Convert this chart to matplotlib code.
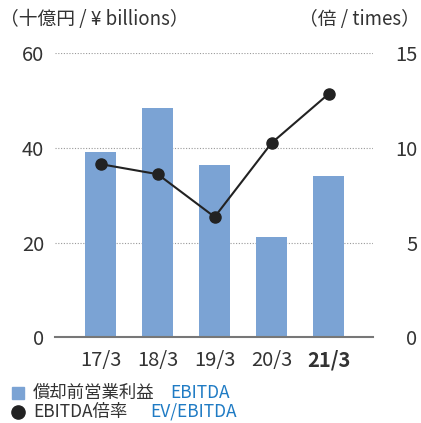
import matplotlib
matplotlib.use('Agg')
import matplotlib.pyplot as plt
from matplotlib.lines import Line2D

plt.rcParams['font.family'] = ['Noto Sans CJK JP', 'DejaVu Sans']

years = ['17/3', '18/3', '19/3', '20/3', '21/3']
ebitda = [39.2, 48.4, 36.5, 21.3, 34.0]      # 十億円
ev_ebitda = [9.15, 8.62, 6.36, 10.27, 12.86]  # 倍

bar_color = '#7ba3d4'
text_color = '#333333'
blue_text = '#1f7bc4'

fig = plt.figure(figsize=(4.21, 4.23), dpi=100)
ax = fig.add_axes([0.131, 0.2026, 0.755, 0.671])
ax2 = ax.twinx()

x = list(range(len(years)))
ax.bar(x, ebitda, width=0.54, color=bar_color, zorder=2)
ax.set_xlim(-0.8, 4.78)
ax.set_ylim(0, 60)
ax.set_yticks([0, 20, 40, 60])
for y in [20, 40, 60]:
    ax.axhline(y, color='#999999', lw=0.8, ls=(0, (1, 1.5)), zorder=1)

ax2.plot(x, ev_ebitda, color='#222222', lw=1.5, marker='o', ms=8, zorder=3)
ax2.set_ylim(0, 15)
ax2.set_yticks([0, 5, 10, 15])

for a in (ax, ax2):
    for s in ['top', 'left', 'right', 'bottom']:
        a.spines[s].set_visible(False)
    a.tick_params(length=0, labelsize=14.5, labelcolor=text_color)
ax.spines['bottom'].set_visible(True)
ax.spines['bottom'].set_color('#777777')
ax.spines['bottom'].set_linewidth(1.5)
ax.tick_params(axis='y', pad=8)
for lab in ax2.get_yticklabels():
    lab.set_horizontalalignment('right')
ax2.tick_params(axis='y', pad=32)

ax.set_xticks(x)
ax.set_xticklabels(years)
ax.tick_params(axis='x', pad=9)
ax.get_xticklabels()[-1].set_fontweight('bold')

fig.text(0.0, 0.953, '（十億円 / ¥ billions）', fontsize=13.5, color=text_color, va='center')
fig.text(0.998, 0.953, '（倍 / times）', fontsize=13.5, color=text_color, va='center', ha='right')

# legend
fig.add_artist(Line2D([0.043], [0.0716], marker='s', ms=8, color=bar_color, lw=0, transform=fig.transFigure))
fig.add_artist(Line2D([0.043], [0.0267], marker='o', ms=9.5, color='#222222', lw=0, transform=fig.transFigure))
fig.text(0.078, 0.0716, '償却前営業利益', fontsize=12.5, color=text_color, va='center')
fig.text(0.404, 0.0716, 'EBITDA', fontsize=12.5, color=blue_text, va='center')
fig.text(0.078, 0.0267, 'EBITDA倍率', fontsize=12.5, color=text_color, va='center')
fig.text(0.356, 0.0267, 'EV/EBITDA', fontsize=12.5, color=blue_text, va='center')

fig.savefig('out.png', dpi=100)
